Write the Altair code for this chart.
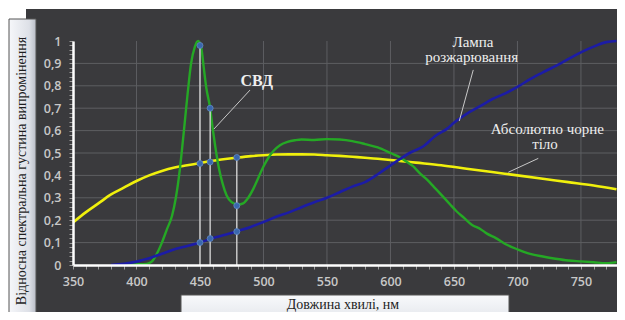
import altair as alt
import pandas as pd

# ---- data ----
green_nm = [385, 390, 400, 408, 412, 416, 420, 424, 428, 431, 434, 437, 440, 443, 446, 448.5,
            451, 453, 455, 458, 460, 462, 465, 468, 471, 475, 480, 484, 488, 492, 496, 500,
            504, 508, 513, 519, 525, 530, 540, 550, 560, 570, 580, 590, 600, 608, 613, 618,
            623, 629, 634, 639, 647, 652, 658, 664, 671, 676, 683, 690, 700, 710, 720, 730,
            740, 750, 760, 770, 778]
green_val = [0.0, 0.002, 0.003, 0.005, 0.015, 0.05, 0.10, 0.16, 0.22, 0.30, 0.42, 0.58, 0.75,
             0.90, 0.975, 1.0, 0.97, 0.88, 0.79, 0.70, 0.61, 0.53, 0.43, 0.36, 0.31, 0.28, 0.27,
             0.275, 0.30, 0.34, 0.39, 0.44, 0.48, 0.51, 0.535, 0.55, 0.557, 0.56, 0.558, 0.562,
             0.56, 0.553, 0.54, 0.525, 0.50, 0.479, 0.46, 0.44, 0.41, 0.38, 0.35, 0.32, 0.27,
             0.24, 0.21, 0.18, 0.16, 0.14, 0.12, 0.095, 0.07, 0.05, 0.038, 0.028, 0.02, 0.016,
             0.012, 0.008, 0.013]

blue_nm = [380, 390, 400, 410, 420, 430, 440, 450, 460, 470, 480, 490, 500, 510, 520, 530,
           540, 550, 560, 570, 580, 590, 600, 608, 615, 626, 635, 645, 650, 660, 671, 680,
           690, 700, 710, 720, 734, 745, 752, 760, 770, 778]
blue_val = [0.0, 0.005, 0.015, 0.03, 0.05, 0.07, 0.085, 0.10, 0.12, 0.135, 0.152, 0.17, 0.192,
            0.215, 0.235, 0.258, 0.28, 0.30, 0.325, 0.35, 0.37, 0.405, 0.445, 0.475, 0.50,
            0.53, 0.575, 0.61, 0.635, 0.675, 0.71, 0.74, 0.765, 0.795, 0.83, 0.86, 0.90,
            0.935, 0.955, 0.975, 0.995, 1.0]

yellow_nm = [350, 360, 370, 380, 390, 400, 410, 420, 430, 440, 450, 460, 470, 480, 490, 500,
             510, 520, 530, 540, 550, 560, 570, 580, 590, 600, 620, 640, 660, 680, 700, 720,
             740, 760, 778]
yellow_val = [0.19, 0.235, 0.275, 0.315, 0.345, 0.375, 0.40, 0.42, 0.435, 0.445, 0.455, 0.465,
              0.473, 0.48, 0.486, 0.49, 0.493, 0.494, 0.494, 0.493, 0.49, 0.487, 0.483, 0.479,
              0.474, 0.469, 0.457, 0.445, 0.43, 0.415, 0.40, 0.385, 0.37, 0.355, 0.338]

marker_nm = [450, 450, 450, 458, 458, 458, 479, 479, 479]
marker_val = [0.98, 0.453, 0.10, 0.70, 0.46, 0.118, 0.48, 0.265, 0.149]
drop_nm = [450, 458, 479]
drop_top = [0.98, 0.70, 0.48]

x_grid = [400, 450, 500, 550, 600, 650, 700, 750]
y_grid = [0.1, 0.2, 0.3, 0.4, 0.5, 0.6, 0.7, 0.8, 0.9]
x_ticks = list(range(350, 780, 10))
y_ticks = [round(i * 0.02, 2) for i in range(51)]

# annotations (text and leader lines, in data units)
ann_text = ["Лампа", "розжарювання", "Абсолютно чорне", "тіло"]
ann_nm = [665, 664, 723.6, 721.7]
ann_val = [0.997, 0.929, 0.607, 0.540]
svd_text = ["СВД"]
svd_nm = [494.7]
svd_val = [0.821]
lead_nm = [489.4, 665.2, 716.4]
lead_val = [0.781, 0.871, 0.476]
lead_nm2 = [461.0, 654.2, 692.8]
lead_val2 = [0.607, 0.643, 0.414]

y_title = "Відносна спектральна густина випромінення"
x_title = "Довжина хвилі, нм"

SERIF = "Liberation Serif, Times New Roman, serif"

# ---- chart ----
xs = alt.Scale(domain=[350, 778.4], nice=False, zero=False)
ys = alt.Scale(domain=[0, 1], nice=False, zero=True)

x_axis = alt.Axis(values=x_ticks, labelExpr="datum.value % 50 == 0 ? datum.value : ''",
                  grid=False, domainColor="#ffffff", domainWidth=2.5, tickColor="#9a9a9a",
                  tickSize=4, tickWidth=1, labelColor="#c8c8c8", labelFont="Open Sans",
                  labelFontSize=12.5, labelFontWeight=600, labelPadding=6, title=None,
                  zindex=1, labelOverlap=False, labelFlush=False)
y_axis = alt.Axis(values=y_ticks,
                  labelExpr="abs(datum.value*10 - round(datum.value*10)) < 0.001 ? replace(format(datum.value, '.1~f'), '.', ',') : ''",
                  grid=False, domainColor="#ffffff", domainWidth=2.5, tickColor="#9a9a9a",
                  tickSize=4, tickWidth=1, labelColor="#c8c8c8", labelFont="Open Sans",
                  labelFontSize=12.5, labelFontWeight=600, labelPadding=8, title=None,
                  zindex=1, labelOverlap=False, labelFlush=False)

X = alt.X("nm:Q", scale=xs, axis=x_axis)
Y = alt.Y("v:Q", scale=ys, axis=y_axis)

one = alt.Data(values=[{}])

panel = alt.Chart(one).mark_rect(fill="#3a3a3d").encode(
    x=alt.value(-47), x2=alt.value(600), y=alt.value(-32), y2=alt.value(300))

ybox = alt.Chart(one).mark_rect(
    fill=alt.LinearGradient(gradient="linear", x1=0, y1=0, x2=1, y2=0,
                            stops=[alt.GradientStop(offset=0, color="#f6f7fa"),
                                   alt.GradientStop(offset=0.75, color="#dde0e7"),
                                   alt.GradientStop(offset=1, color="#b9bdc7")]),
    stroke="#555555", strokeWidth=1).encode(
    x=alt.value(-64), x2=alt.value(-37), y=alt.value(-22), y2=alt.value(300))

xbox = alt.Chart(one).mark_rect(
    fill=alt.LinearGradient(gradient="linear", x1=0, y1=0, x2=0, y2=1,
                            stops=[alt.GradientStop(offset=0, color="#f8f9fb"),
                                   alt.GradientStop(offset=1, color="#d3d7df")]),
    stroke="#555555", strokeWidth=1).encode(
    x=alt.value(108), x2=alt.value(436), y=alt.value(254), y2=alt.value(300))

ytitle = alt.Chart(one).mark_text(angle=270, font=SERIF, fontSize=14,
                                  color="#1e1e1e", align="center", baseline="middle").encode(
    x=alt.value(-51), y=alt.value(130), text=alt.value(y_title))
xtitle = alt.Chart(one).mark_text(font=SERIF, fontSize=14, color="#1e1e1e",
                                  align="center", baseline="middle").encode(
    x=alt.value(270), y=alt.value(264), text=alt.value(x_title))

vgrid = alt.Chart(pd.DataFrame({"nm": x_grid})).mark_rule(color="#5d5e62", strokeWidth=1).encode(
    x=X, y=alt.value(0), y2=alt.value(224))
hgrid = alt.Chart(pd.DataFrame({"v": y_grid})).mark_rule(color="#5d5e62", strokeWidth=1).encode(
    y=Y, x=alt.value(0), x2=alt.value(544))

yellow = alt.Chart(pd.DataFrame({"nm": yellow_nm, "v": yellow_val})).mark_line(
    color="#f0f00c", strokeWidth=2.6, interpolate="monotone").encode(x=X, y=Y)
green = alt.Chart(pd.DataFrame({"nm": green_nm, "v": green_val})).mark_line(
    color="#25a825", strokeWidth=2.4, interpolate="monotone").encode(x=X, y=Y)
blue = alt.Chart(pd.DataFrame({"nm": blue_nm, "v": blue_val})).mark_line(
    color="#1c1ca6", strokeWidth=2.6, interpolate="monotone").encode(x=X, y=Y)

drops = alt.Chart(pd.DataFrame({"nm": drop_nm, "v": drop_top, "v0": [0] * len(drop_nm)})).mark_rule(
    color="#dcdcdc", strokeWidth=1.3).encode(x=X, y=alt.Y("v0:Q", scale=ys, axis=y_axis), y2="v:Q")
dots = alt.Chart(pd.DataFrame({"nm": marker_nm, "v": marker_val})).mark_circle(
    color="#3a67ad", opacity=1, size=36, stroke="#6289c4", strokeWidth=0.8).encode(x=X, y=Y)

leads = alt.Chart(pd.DataFrame({"nm": lead_nm, "v": lead_val, "nm2": lead_nm2, "v2": lead_val2})).mark_rule(
    color="#c8c8c8", strokeWidth=1).encode(x=X, y=Y, x2="nm2:Q", y2="v2:Q")
ann = alt.Chart(pd.DataFrame({"nm": ann_nm, "v": ann_val, "t": ann_text})).mark_text(
    font=SERIF, fontSize=15, color="#eeeeee", align="center", baseline="middle").encode(
    x=X, y=Y, text="t:N")
svd = alt.Chart(pd.DataFrame({"nm": svd_nm, "v": svd_val, "t": svd_text})).mark_text(
    font=SERIF, fontSize=16, fontWeight="bold", color="#eeeeee", align="center",
    baseline="middle").encode(x=X, y=Y, text="t:N")

chart = alt.layer(panel, ybox, xbox, ytitle, xtitle, vgrid, hgrid, yellow, green, blue,
                  drops, dots, leads, ann, svd).properties(
    width=544, height=224,
    autosize=alt.AutoSizeParams(type="none"),
    padding={"left": 65, "top": 33, "right": 0, "bottom": 47},
    background="#ffffff",
).configure_view(stroke=None)

chart.save("out.html", embed_options={"renderer": "svg", "actions": False})
